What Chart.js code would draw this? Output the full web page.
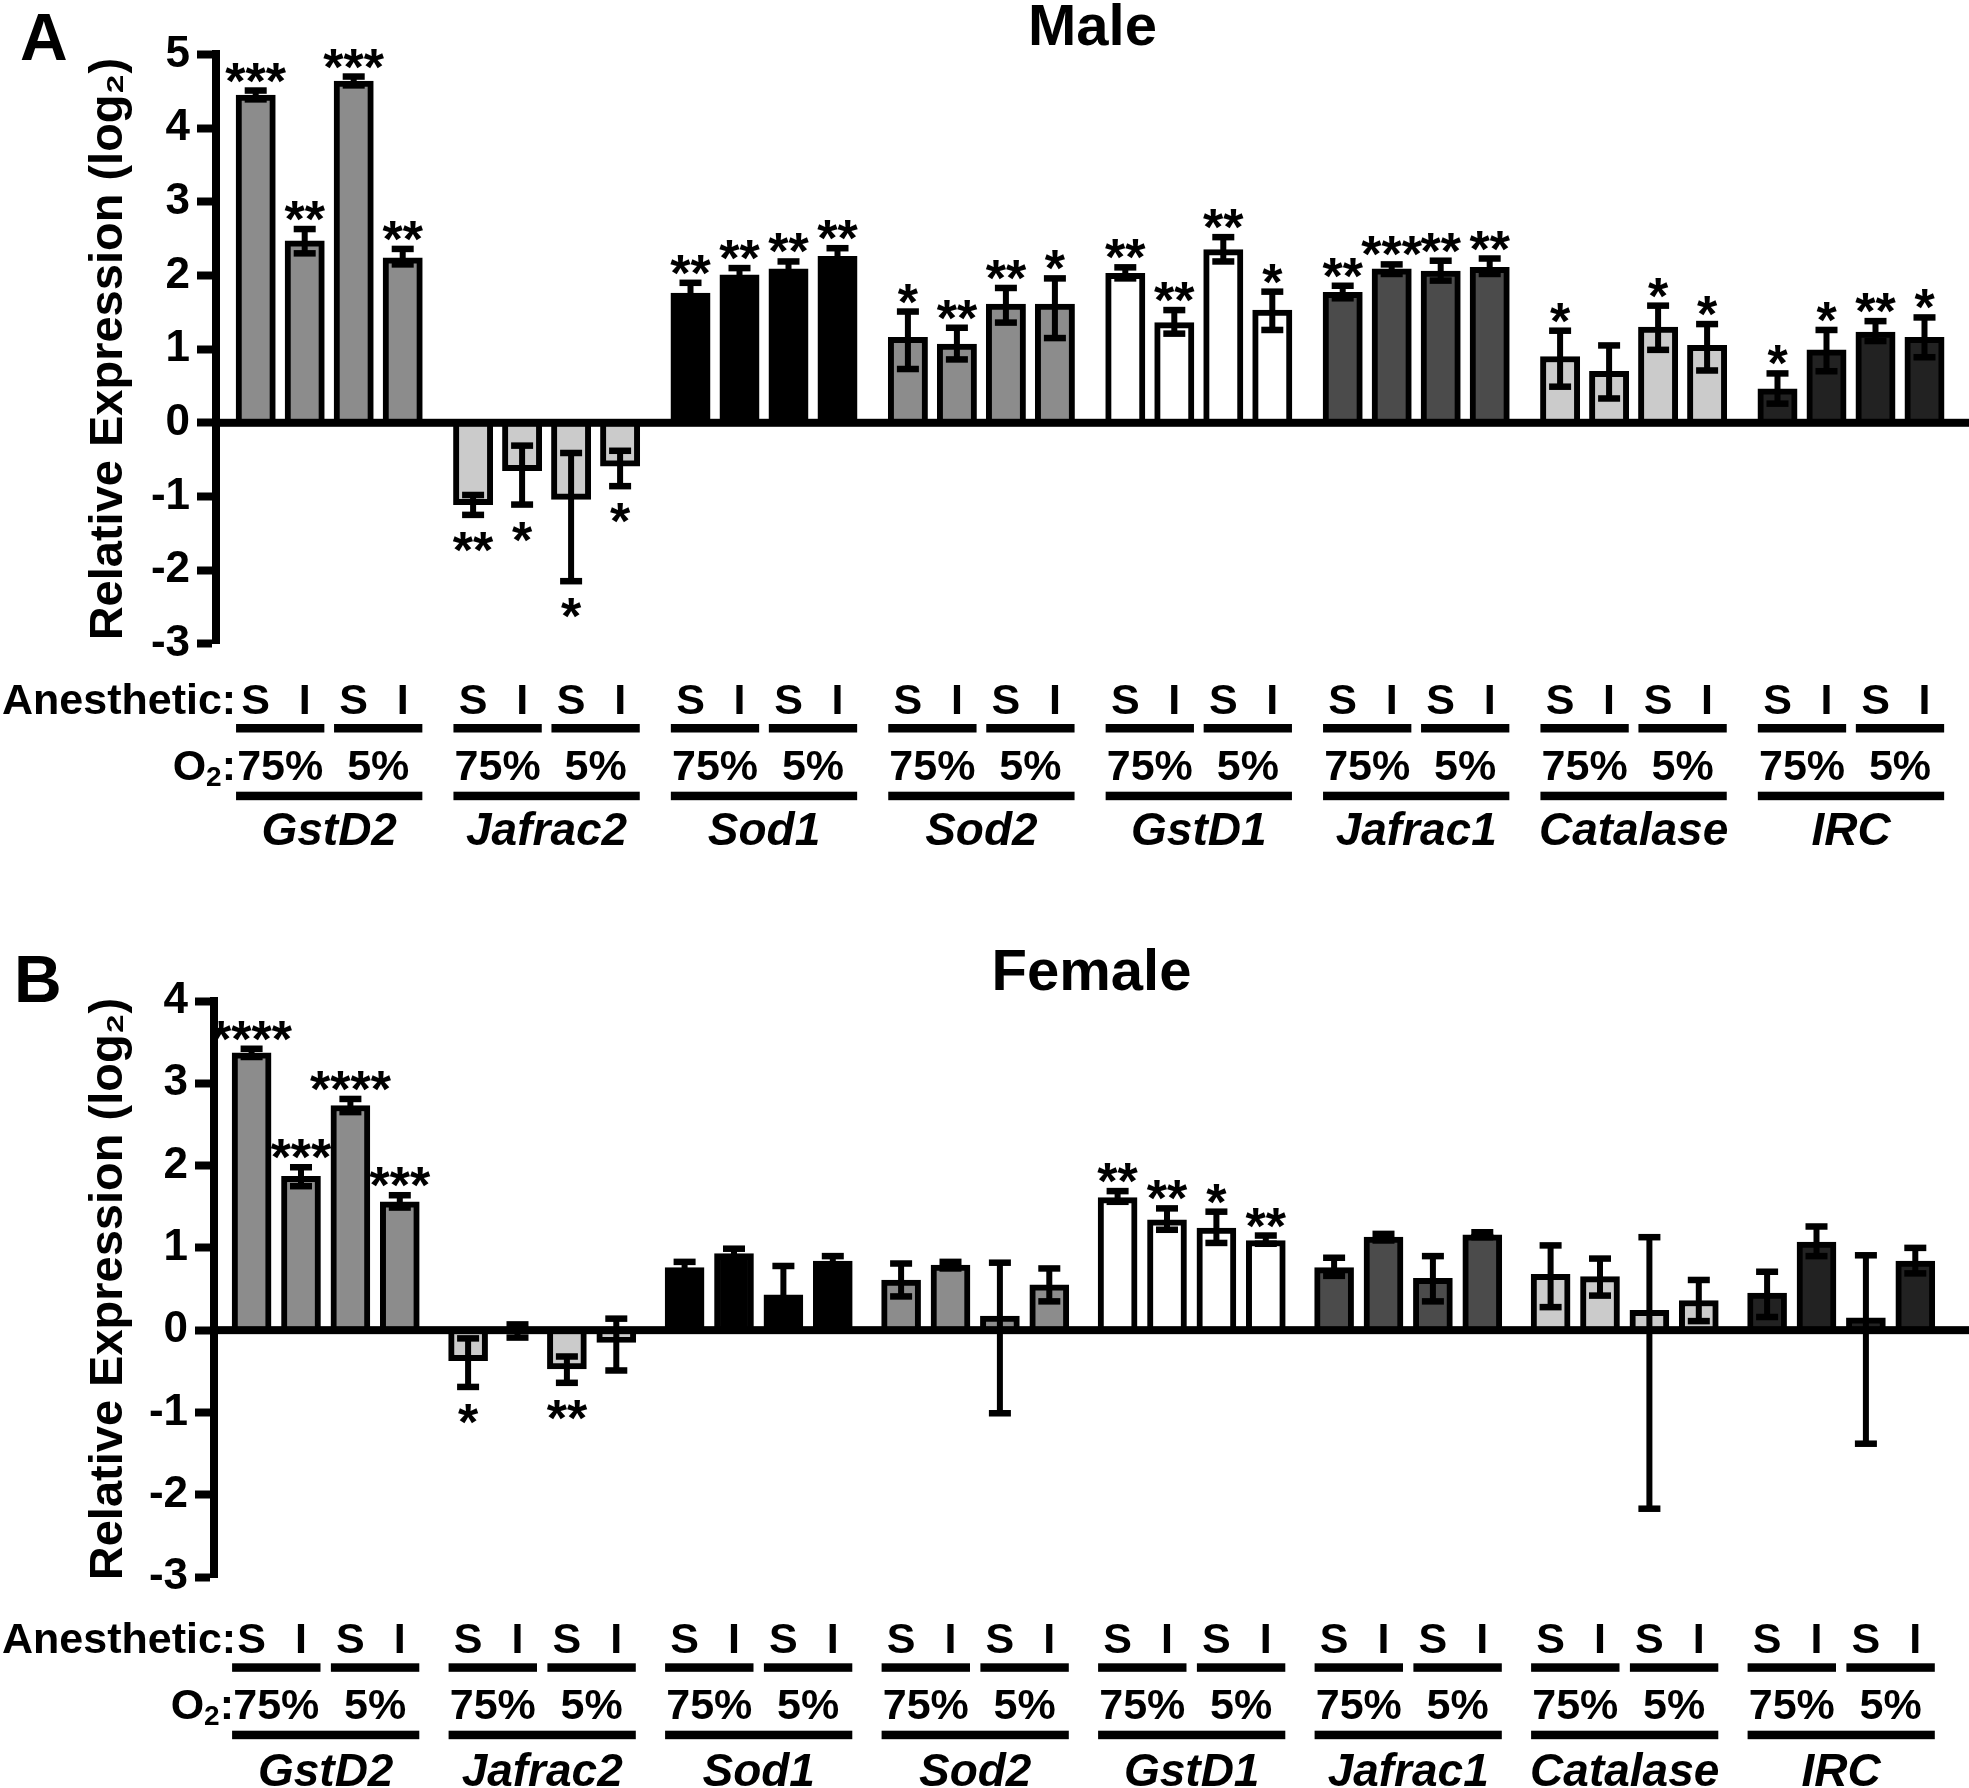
<!DOCTYPE html>
<html>
<head>
<meta charset="utf-8">
<script src="https://cdn.jsdelivr.net/npm/chart.js@4.4.1/dist/chart.umd.min.js"></script>
<style>
  body { margin: 0; background: #fff; }
  #wrap { position: relative; width: 1969px; height: 1788px; overflow: hidden; background: #fff; }
  #wrap canvas { position: absolute; left: 0; }
</style>
</head>
<body>
<div id="wrap">
  <canvas id="male" width="1969" height="900" style="top:0"></canvas>
  <canvas id="female" width="1969" height="888" style="top:900px"></canvas>
</div>
<script>
// categories and tick labels
var genes = ['GstD2', 'Jafrac2', 'Sod1', 'Sod2', 'GstD1', 'Jafrac1', 'Catalase', 'IRC'];
var anesthetic = ['S', 'I', 'S', 'I'];
var oxygen = ['75%', '5%'];

// 4 bars per gene, in order S/75%, I/75%, S/5%, I/5%
var maleMean = [
  4.45, 2.47, 4.64, 2.24,
  -1.11, -0.65, -1.04, -0.59,
  1.76, 2.01, 2.09, 2.26,
  1.16, 1.07, 1.61, 1.61,
  2.03, 1.36, 2.35, 1.53,
  1.77, 2.09, 2.06, 2.11,
  0.90, 0.70, 1.30, 1.05,
  0.46, 0.99, 1.23, 1.16
];
var maleErrUp = [
  0.06, 0.16, 0.06, 0.12,
  0.13, 0.34, 0.63, 0.21,
  0.14, 0.09, 0.10, 0.11,
  0.35, 0.22, 0.22, 0.35,
  0.08, 0.17, 0.17, 0.25,
  0.09, 0.06, 0.14, 0.12,
  0.35, 0.35, 0.29, 0.29,
  0.21, 0.27, 0.15, 0.27
];
var maleErrDown = [
  0.06, 0.17, 0.06, 0.09,
  0.14, 0.46, 1.11, 0.27,
  0.14, 0.09, 0.10, 0.11,
  0.43, 0.21, 0.25, 0.46,
  0.07, 0.15, 0.16, 0.27,
  0.08, 0.07, 0.13, 0.09,
  0.41, 0.37, 0.31, 0.34,
  0.20, 0.29, 0.12, 0.27
];
var maleStars = [
  '***', '**', '***', '**',
  '**', '*', '*', '*',
  '**', '**', '**', '**',
  '*', '**', '**', '*',
  '**', '**', '**', '*',
  '**', '***', '**', '**',
  '*', '', '*', '*',
  '*', '*', '**', '*'
];

var femaleMean = [
  3.37, 1.87, 2.73, 1.56,
  -0.37, -0.02, -0.47, -0.15,
  0.76, 0.93, 0.43, 0.84,
  0.61, 0.79, 0.17, 0.55,
  1.61, 1.34, 1.24, 1.09,
  0.76, 1.13, 0.63, 1.16,
  0.68, 0.65, 0.24, 0.36,
  0.45, 1.07, 0.15, 0.84
];
var femaleErrUp = [
  0.05, 0.11, 0.08, 0.08,
  0.27, 0.09, 0.15, 0.29,
  0.07, 0.06, 0.35, 0.06,
  0.20, 0.04, 0.65, 0.20,
  0.08, 0.14, 0.20, 0.06,
  0.12, 0.04, 0.27, 0.03,
  0.35, 0.22, 0.89, 0.25,
  0.26, 0.19, 0.76, 0.16
];
var femaleErrDown = [
  0.05, 0.12, 0.08, 0.07,
  0.32, 0.07, 0.17, 0.34,
  0.07, 0.06, 0.35, 0.06,
  0.20, 0.04, 1.18, 0.20,
  0.05, 0.12, 0.18, 0.04,
  0.10, 0.04, 0.28, 0.03,
  0.40, 0.23, 2.41, 0.25,
  0.29, 0.17, 1.53, 0.15
];
var femaleStars = [
  '****', '***', '****', '***',
  '*', '', '**', '',
  '', '', '', '',
  '', '', '', '',
  '**', '**', '*', '**',
  '', '', '', '',
  '', '', '', '',
  '', '', '', ''
];

// fill colour of each gene group
var geneColors = ['#8c8c8c', '#cbcbcb', '#000000', '#8c8c8c', '#ffffff', '#4b4b4b', '#cbcbcb', '#222222'];

var FONT = "'Liberation Sans', Arial, Helvetica, sans-serif";
Chart.defaults.font.family = FONT;
Chart.defaults.color = '#000';

// zero line, error bars, stars and the label rows under the plot
function extras(cfg) {
  return {
    id: 'extras',
    afterDatasetsDraw: function(chart) {
      var ctx = chart.ctx;
      var area = chart.chartArea;
      var y = chart.scales.y;
      var y0 = y.getPixelForValue(0);
      ctx.save();
      ctx.fillStyle = '#000';
      ctx.fillRect(area.left, y0 - 4, chart.width - area.left, 8);

      ctx.font = 'bold 52px ' + FONT;
      ctx.textAlign = 'center';
      ctx.textBaseline = 'alphabetic';
      for (var k = 0; k < 4; k++) {
        var meta = chart.getDatasetMeta(k);
        meta.data.forEach(function(bar, i) {
          var n = i * 4 + k;
          var m = cfg.mean[n];
          var top = y.getPixelForValue(m + cfg.up[n]);
          var bot = y.getPixelForValue(m - cfg.down[n]);
          ctx.fillRect(bar.x - 3, top, 6, bot - top);
          ctx.fillRect(bar.x - 11, top - 3.25, 22, 6.5);
          ctx.fillRect(bar.x - 11, bot - 3.25, 22, 6.5);
          if (cfg.stars[n]) {
            if (m >= 0) ctx.fillText(cfg.stars[n], bar.x, top + 8);
            else ctx.fillText(cfg.stars[n], bar.x, bot + 53);
          }
        });
      }
      ctx.restore();
    },
    afterDraw: function(chart) {
      var ctx = chart.ctx;
      var area = chart.chartArea;
      var b = area.bottom;
      var r = cfg.rows;
      ctx.save();
      ctx.fillStyle = '#000';
      ctx.textBaseline = 'alphabetic';

      // panel letter
      ctx.font = 'bold 66px ' + FONT;
      ctx.textAlign = 'left';
      ctx.fillText(cfg.letter, cfg.letterX, cfg.letterY);

      // row headers
      ctx.font = 'bold 43px ' + FONT;
      ctx.fillText('Anesthetic:', 2, b + r[0]);
      var rx = area.left + 20;
      ctx.textAlign = 'right';
      ctx.fillText(':', rx, b + r[2]);
      var wc = ctx.measureText(':').width;
      ctx.font = 'bold 28px ' + FONT;
      ctx.fillText('2', rx - wc, b + r[2] + 6);
      var w2 = ctx.measureText('2').width;
      ctx.font = 'bold 43px ' + FONT;
      ctx.fillText('O', rx - wc - w2, b + r[2]);

      ctx.textAlign = 'center';
      for (var i = 0; i < genes.length; i++) {
        var bars = [0, 1, 2, 3].map(function(k) { return chart.getDatasetMeta(k).data[i]; });
        var half = bars[0].width / 2;
        ctx.font = 'bold 43px ' + FONT;
        bars.forEach(function(bar, k) {
          ctx.fillText(anesthetic[k], bar.x, b + r[0]);
        });
        for (var p = 0; p < 2; p++) {
          var a = bars[p * 2], c = bars[p * 2 + 1];
          ctx.fillRect(a.x - half, b + r[1], c.x - a.x + 2 * half, 8.5);
          ctx.fillText(oxygen[p], (a.x + c.x) / 2, b + r[2]);
        }
        ctx.fillRect(bars[0].x - half, b + r[3], bars[3].x - bars[0].x + 2 * half, 8.5);
        ctx.font = 'italic bold 46px ' + FONT;
        ctx.fillText(genes[i], (bars[0].x + bars[3].x) / 2, b + r[4]);
      }
      ctx.restore();
    }
  };
}

function makeChart(id, cfg) {
  var datasets = anesthetic.map(function(a, k) {
    return {
      label: a + ' ' + oxygen[k >> 1],
      data: genes.map(function(g, i) { return { x: i, y: cfg.mean[i * 4 + k] }; }),
      backgroundColor: geneColors,
      borderColor: '#000',
      borderWidth: 6,
      borderSkipped: 'start',
      barThickness: cfg.slot,
      maxBarThickness: cfg.barWidth
    };
  });

  return new Chart(document.getElementById(id), {
    type: 'bar',
    data: { datasets: datasets },
    options: {
      responsive: false,
      animation: false,
      layout: { padding: { top: 0, bottom: cfg.padBottom, left: 0, right: 0 } },
      plugins: {
        legend: { display: false },
        tooltip: { enabled: false },
        title: {
          display: true,
          text: cfg.title,
          fullSize: false,
          color: '#000',
          font: { size: 58, weight: 'bold', lineHeight: 0.88 },
          padding: cfg.titlePad
        }
      },
      scales: {
        x: {
          type: 'linear',
          display: false,
          offset: false,
          min: cfg.xMin,
          max: cfg.xMax,
          grid: { offset: false },
          ticks: { stepSize: 1, includeBounds: false }
        },
        y: {
          min: cfg.yMin,
          max: cfg.yMax,
          ticks: { stepSize: 1, color: '#000', padding: 7, font: { size: 44, weight: 'bold' } },
          grid: { drawOnChartArea: false, tickLength: 19, tickWidth: 8, tickColor: '#000' },
          border: { color: '#000', width: 8 },
          title: {
            display: true,
            text: 'Relative Expression (log\u2082)',
            color: '#000',
            font: { size: 47, weight: 'bold' },
            padding: { top: 80.5, bottom: 0 }
          },
          afterFit: function(scale) { scale.width = cfg.axisX; }
        }
      }
    },
    plugins: [extras(cfg)]
  });
}

makeChart('male', {
  title: 'Male', letter: 'A', letterX: 20, letterY: 60,
  mean: maleMean, up: maleErrUp, down: maleErrDown, stars: maleStars,
  yMin: -3, yMax: 5,
  axisX: 216, xMin: -0.5207, xMax: 7.5428, slot: 49, barWidth: 39.3,
  padBottom: 256.2, titlePad: { top: 3.4, bottom: 0 },
  rows: [70.2, 80.2, 136.2, 147.9, 201.2]
});

makeChart('female', {
  title: 'Female', letter: 'B', letterX: 14, letterY: 101.7,
  mean: femaleMean, up: femaleErrUp, down: femaleErrDown, stars: femaleStars,
  yMin: -3, yMax: 4,
  axisX: 214, xMin: -0.5159, xMax: 7.5903, slot: 49.4, barWidth: 39,
  padBottom: 211, titlePad: { top: 48.9, bottom: 1.1 },
  rows: [76.3, 86.3, 142.3, 153.7, 209]
});
</script>
</body>
</html>
